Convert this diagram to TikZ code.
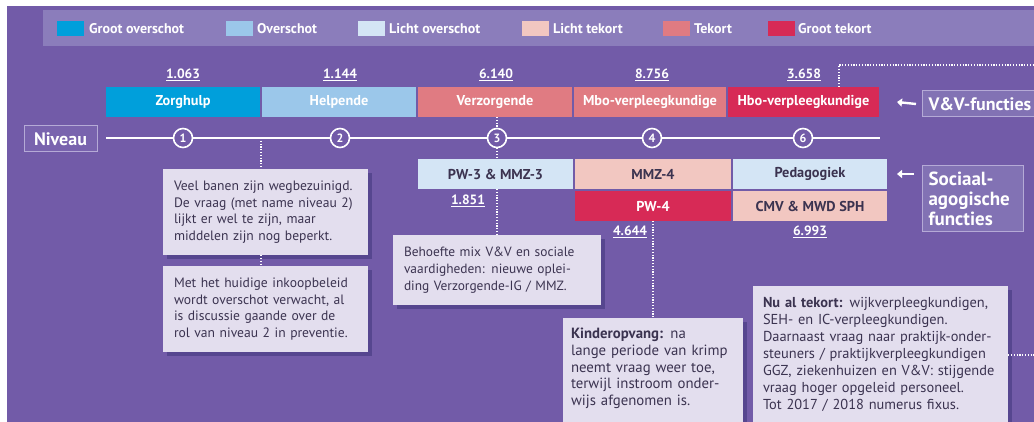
\documentclass[tikz,border=0pt]{standalone}
\usepackage{fontspec}
\setmainfont{PT Sans}
\usetikzlibrary{arrows.meta,shadows}
\definecolor{bg}{HTML}{725BA8}
\definecolor{legendbg}{HTML}{8B7DBB}
\definecolor{cBlueDark}{HTML}{009FDB}
\definecolor{cBlue}{HTML}{9BC7EA}
\definecolor{cBlueLight}{HTML}{D4E5F5}
\definecolor{cPinkLight}{HTML}{F2C7C1}
\definecolor{cPink}{HTML}{E07B82}
\definecolor{cRed}{HTML}{D72A56}
\definecolor{txtdark}{HTML}{3B3350}
\definecolor{notefill}{HTML}{E3DEEE}
\definecolor{shadowc}{HTML}{56468F}
\definecolor{tagborder}{HTML}{B5AAD6}
\definecolor{tagfill}{HTML}{8272B4}
\definecolor{nivfill}{HTML}{7963AE}
\begin{document}
\begin{tikzpicture}[x=1pt,y=-1pt,
 swatch/.style={minimum width=27, minimum height=15, inner sep=0, outer sep=0},
 legtext/.style={anchor=west, text=white, font=\bfseries\fontsize{14}{16}\selectfont, inner sep=0},
 funcbox/.style={minimum height=30, inner sep=0, outer sep=0, font=\bfseries\fontsize{14.3}{16}\selectfont},
 num/.style={text=white, font=\bfseries\fontsize{13.5}{15}\selectfont, inner sep=0},
 lvl/.style={circle, draw=white, line width=1.6pt, fill=bg, minimum size=19, inner sep=0, text=white, font=\bfseries\fontsize{12}{13}\selectfont},
 note/.style={fill=notefill, text=txtdark, align=left, drop shadow={shadow xshift=4pt, shadow yshift=-4pt, fill=shadowc, opacity=1}},
 dotline/.style={draw=white, line width=1.2pt, dash pattern=on 1.2pt off 1.6pt},
 tag/.style={draw=tagborder, line width=1pt, fill=tagfill, text=white, font=\bfseries\fontsize{19}{20}\selectfont, align=left},
 pointer/.style={draw=white, line width=2.4pt, -{Triangle[length=5pt,width=8pt]}},
]
\useasboundingbox (0,0) rectangle (1034,422);
\clip (0,0) rectangle (1034,422);
\fill[white] (0,0) rectangle (1034,422);
\fill[bg] (7,6) rectangle (1034,422);
\fill[legendbg] (43,10) rectangle (1034,46);

% legend
\node[swatch, fill=cBlueDark] (s1) at (70.5,28.5) {};
\node[legtext] (t1) at (89,28.5) {Groot overschot};
\node[swatch, fill=cBlue] (s2) at (239,28.5) {};
\node[legtext] (t2) at (257,28.5) {Overschot};
\node[swatch, fill=cBlueLight] (s3) at (371,28.5) {};
\node[legtext] (t3) at (389,28.5) {Licht overschot};
\node[swatch, fill=cPinkLight] (s4) at (535.5,28.5) {};
\node[legtext] (t4) at (553,28.5) {Licht tekort};
\node[swatch, fill=cPink] (s5) at (676,28.5) {};
\node[legtext] (t5) at (694,28.5) {Tekort};
\node[swatch, fill=cRed] (s6) at (781,28.5) {};
\node[legtext] (t6) at (798,28.5) {Groot tekort};

% numbers above
\node[num] (v1) at (183,75) {\underline{1.063}};
\node[num] (v2) at (340,75) {\underline{1.144}};
\node[num] (v3) at (496,75) {\underline{6.140}};
\node[num] (v4) at (652,75) {\underline{8.756}};
\node[num] (v5) at (804,75) {\underline{3.658}};

% V&V boxes
\node[funcbox, fill=cBlueDark, text=white, minimum width=154] (zorg) at (183,102) {Zorghulp};
\node[funcbox, fill=cBlue, text=white, minimum width=154] (help) at (339,102) {Helpende};
\node[funcbox, fill=cPink, text=white, minimum width=154] (verz) at (495,102) {Verzorgende};
\node[funcbox, fill=cPink, text=white, minimum width=152] (mbo) at (650,102) {Mbo-verpleegkundige};
\node[funcbox, fill=cRed, text=white, minimum width=151] (hbo) at (803.5,102) {Hbo-verpleegkundige};

% level line
\coordinate (ls) at (106,138);
\coordinate (le) at (880,138);
\node[lvl] (n1) at (183,138) {1};
\node[lvl] (n2) at (340,138) {2};
\node[lvl] (n3) at (497,138) {3};
\node[lvl] (n4) at (652,138) {4};
\node[lvl] (n6) at (803,138) {6};
\draw[white, line width=1.4pt] (ls) -- (n1) -- (n2) -- (n3) -- (n4) -- (n6) -- (le);
\node[tag, fill=nivfill, minimum width=73, minimum height=26, inner sep=0, font=\bfseries\fontsize{18}{20}\selectfont] (niv) at (60.5,139) {Niveau};

% social boxes
\node[funcbox, fill=cBlueLight, text=txtdark, minimum width=155] (pw3) at (495.5,174) {PW-3 \& MMZ-3};
\node[funcbox, fill=cPinkLight, text=txtdark, minimum width=156] (mmz4) at (653,174) {MMZ-4};
\node[funcbox, fill=cBlueLight, text=txtdark, minimum width=154] (ped) at (810,174) {Pedagogiek};
\node[funcbox, fill=cRed, text=white, minimum width=156] (pw4) at (653,206) {PW-4};
\node[funcbox, fill=cPinkLight, text=txtdark, minimum width=154] (cmv) at (810,206) {CMV \& MWD SPH};
\node[num] (v6) at (468,201) {\underline{1.851}};
\node[num] (v7) at (630,232) {\underline{4.644}};
\node[num] (v8) at (810,232) {\underline{6.993}};

% tags on the right
\node[tag, anchor=west, minimum height=26, text width=150, inner xsep=6, inner ysep=0, font=\bfseries\fontsize{18}{20}\selectfont] (vv) at (922,104) {V\&V-functies};
\node[tag, anchor=north west, minimum height=66, text width=89, inner xsep=6, inner ysep=3] (soc) at (922,165) {Sociaal-\\agogische\\functies};
\draw[pointer] ([xshift=-6pt]vv.west) -- ([xshift=18pt]hbo.east);
\draw[pointer] ([xshift=-8pt]soc.west |- ped.east) -- ([xshift=10pt]ped.east);

% notes
\node[note, font=\fontsize{13.6}{16.7}\selectfont, text width=183, inner xsep=11, minimum height=86] (b1) at (265.5,212)
 {Veel banen zijn wegbezuinigd.\\De vraag (met name niveau 2)\\lijkt er wel te zijn, maar\\middelen zijn nog beperkt.};
\node[note, font=\fontsize{13.6}{16.7}\selectfont, text width=183, inner xsep=11, minimum height=86] (b2) at (265.5,309)
 {Met het huidige inkoopbeleid\\wordt overschot verwacht, al\\is discussie gaande over de\\rol van niveau 2 in preventie.};
\node[note, font=\fontsize{13.4}{16.7}\selectfont, text width=186, inner xsep=11, minimum height=70] (b3) at (497,270)
 {Behoefte mix V\&V en sociale\\vaardigheden: nieuwe oplei-\\ding Verzorgende-IG / MMZ.};
\node[note, font=\fontsize{14.8}{16.7}\selectfont, anchor=north, text width=164, inner xsep=8, inner ysep=10] (b4) at (653,318)
 {\textbf{Kinderopvang:} na\\lange periode van krimp\\neemt vraag weer toe,\\terwijl instroom onder-\\wijs afgenomen is.\par\vspace*{20pt}};
\node[note, font=\fontsize{14.4}{17}\selectfont, anchor=north, text width=235, inner xsep=10, inner ysep=11] (b5) at (880.5,286)
 {\textbf{Nu al tekort:} wijkverpleegkundigen,\\SEH- en IC-verpleegkundigen.\\Daarnaast vraag naar praktijk-onder-\\steuners / praktijkverpleegkundigen\\GGZ, ziekenhuizen en V\&V: stijgende\\vraag hoger opgeleid personeel.\\Tot 2017 / 2018 numerus fixus.\par\vspace*{20pt}};

% dotted connectors
\coordinate (c1) at (261,138);
\draw[dotline] (c1) -- (c1 |- b1.north);
\draw[dotline] (b1.south -| c1) -- (b2.north -| c1);
\draw[dotline] (verz.south -| n3) -- (n3.north);
\draw[dotline] (n3.south) -- (pw3.north -| n3);
\draw[dotline] (pw3.south -| n3) -- (b3.north -| n3);
\draw[dotline] (pw4.south -| b4.north) -- (b4.north);
\coordinate (c2) at (839,65);
\coordinate (c3) at (1034,65);
\draw[dotline] (hbo.north -| c2) -- (c2) -- (c3);
\coordinate (c4) at (1034,355);
\draw[dotline] (b5.east |- c4) -- (c4);
\end{tikzpicture}
\end{document}
